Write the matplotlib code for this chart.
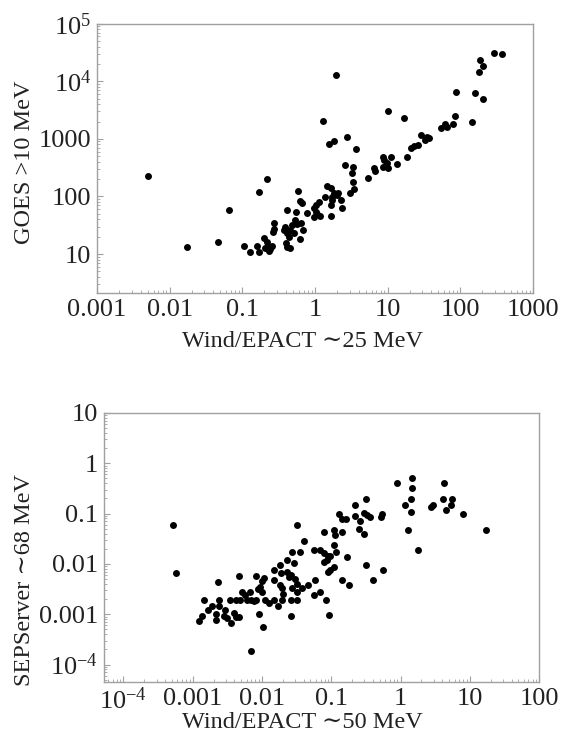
"""
## Two log-log scatter panels of peak proton intensities.
## Top: GOES >10 MeV against Wind/EPACT ~25 MeV.
## Bottom: SEPServer ~68 MeV against Wind/EPACT ~50 MeV.
"""

import numpy as np
import matplotlib
matplotlib.use('Agg')
from matplotlib.figure import Figure
from matplotlib.ticker import FixedLocator, FixedFormatter, LogLocator, NullFormatter

## Top panel values.
top_x = [0.0051, 0.0173, 0.047, 0.066, 0.106, 0.126, 0.158, 0.168, 0.168, 0.216,
         0.201, 0.217, 0.224, 0.243, 0.232, 0.260, 0.208, 0.276, 0.270, 0.265,
         0.414, 0.588, 0.632, 0.667, 0.556, 0.782,
         0.372, 0.392, 0.414, 0.436, 0.460, 0.485, 0.523, 0.569, 0.511, 0.647,
         0.675, 0.395, 0.414, 0.460, 0.618,
         1.13, 1.02, 0.966, 1.02, 1.08, 0.966, 1.16,
         1.45, 1.64, 1.37, 1.73, 1.82, 1.99, 2.08, 1.64, 1.73, 2.31, 2.39, 1.64,
         1.27, 1.56, 1.82, 1.93, 2.80, 3.68, 2.56, 3.39, 3.28, 3.34, 3.45, 3.04,
         5.35, 6.53, 6.67, 8.53, 8.89, 11.1, 9.77, 9.46, 8.53, 10.2, 10.2, 13.3,
         17.0, 18.7, 21.0, 23.3, 26.0, 28.9, 32.8, 34.4, 37.6, 53.5, 62.1, 65.5,
         79.3, 83.4, 86.1, 145, 161, 208, 183, 208, 185, 292, 372]
top_y = [230, 13.1, 16.2, 57, 13.9, 11, 13.9, 11, 120, 204,
         18.7, 16.2, 13.5, 12.2, 11.3, 13.8, 12.5, 35, 27.7, 24.2,
         58, 126, 84.5, 76, 54.5, 52,
         26.1, 29.9, 22.9, 20, 26.1, 31.9, 39, 33.3, 22.9, 35,
         26.1, 15.4, 13.4, 12.7, 18,
         80, 70, 62, 54, 48.6, 44.6, 44.9,
         152, 139, 99, 99, 114, 106, 116, 71, 87, 87, 62, 46,
         2060, 809, 923, 12600, 1070, 662, 349, 322, 253, 181, 135, 114,
         210, 309, 277, 492, 423, 486, 378, 333, 330, 309, 3100, 363,
         2320, 486, 689, 755, 787, 1175, 962, 1097, 1028, 1573, 1800, 1620,
         1845, 2510, 6490, 1950, 6240, 4970, 14500, 18400, 23700, 30900, 29200]

## Bottom panel values.
bot_x = [5.2e-4, 5.8e-4, 0.0069, 0.0103, 0.0319, 0.00233, 0.00465, 0.00806,
         0.00143, 0.00164, 0.00191, 0.00236, 0.00236, 0.00218, 0.00218, 0.00136,
         0.00124, 0.00288, 0.00285, 0.00312, 0.00356, 0.00388, 0.00415, 0.00465,
         0.00348, 0.00424, 0.00484, 0.00513, 0.00573, 0.00606, 0.00676, 0.00692,
         0.00754, 0.00824, 0.00873, 0.00942, 0.00984, 0.00997, 0.0108, 0.00891,
         0.0111, 0.0128, 0.0147, 0.0171, 0.0147, 0.0151, 0.0183, 0.0189, 0.0183,
         0.0194, 0.020, 0.0194, 0.0229, 0.0233, 0.0241, 0.0264, 0.027, 0.035,
         0.0286, 0.0301, 0.0319, 0.027, 0.0319, 0.0261, 0.0322, 0.0264, 0.0377,
         0.0398, 0.0454, 0.0554, 0.0692, 0.0772, 0.0881, 0.0964, 0.0865, 0.118,
         0.0791, 0.168, 0.108, 0.0964, 0.0881, 0.316, 0.548, 0.0586, 0.142, 0.177,
         0.398, 0.0692, 0.0554, 0.0844, 0.0923, 0.0772, 0.108, 0.114, 0.142,
         0.247, 0.292, 0.108, 0.131, 0.142, 0.164, 0.221, 0.319, 0.221, 0.261,
         0.298, 0.327, 0.356, 0.537, 0.525, 0.885, 1.47, 1.47, 4.26, 1.40, 1.15,
         1.39, 1.27, 1.81, 2.74, 2.98, 4.12, 5.46, 5.28, 4.55, 8.0, 17.0]
bot_y = [0.0583, 0.00673, 1.87e-4, 5.6e-4, 0.0592, 0.00435, 0.0057, 0.0057,
         0.00191, 0.00123, 0.00143, 0.00191, 0.00143, 0.00102, 7.5e-4, 9.3e-4,
         7.2e-4, 0.00123, 9.3e-4, 8.4e-4, 6.7e-4, 0.00106, 9.0e-4, 9.0e-4,
         0.00191, 0.00191, 0.00191, 0.00282, 0.00243, 0.00194, 0.00282, 0.00194,
         0.00179, 0.00194, 0.00316, 0.00355, 0.00447, 0.00282, 0.00522, 0.00102,
         0.00194, 0.00167, 0.00194, 0.00143, 0.00482, 0.0076, 0.00955, 0.00655,
         0.00384, 0.0033, 0.00251, 0.00194, 0.012, 0.00705, 0.00561, 0.00606,
         0.0173, 0.0173, 0.0105, 0.00505, 0.00402, 0.00335, 0.00282, 0.00194,
         0.00194, 9.3e-4, 0.0033, 0.0289, 0.00384, 0.0189, 0.0189, 0.0163,
         0.0144, 0.0144, 0.012, 0.0175, 0.0111, 0.014, 0.00885, 0.0076, 0.00705,
         0.00955, 0.0076, 0.00482, 0.00482, 0.00384, 0.00482, 0.00282, 0.00236,
         0.00188, 9.5e-4, 0.0437, 0.0471, 0.0375, 0.0437, 0.0486, 0.0387, 0.0238,
         0.0964, 0.0778, 0.0767, 0.147, 0.194, 0.0904, 0.071, 0.101, 0.0933,
         0.0865, 0.0964, 0.0865, 0.396, 0.498, 0.324, 0.396, 0.194, 0.147, 0.107,
         0.0482, 0.0192, 0.136, 0.145, 0.194, 0.194, 0.145, 0.116, 0.0964, 0.0482]

## Tick values and their labels.
top_xticks = [1e-3, 1e-2, 1e-1, 1, 10, 100, 1000]
top_xlabels = ['0.001', '0.01', '0.1', '1', '10', '100', '1000']
top_yticks = [10, 100, 1000, 1e4, 1e5]
top_ylabels = ['10', '100', '1000', r'$\mathregular{10^{4}}$', r'$\mathregular{10^{5}}$']
bot_xticks = [1e-4, 1e-3, 1e-2, 1e-1, 1, 10, 100]
bot_xlabels = [r'$\mathregular{10^{-4}}$', '0.001', '0.01', '0.1', '1', '10', '100']
bot_yticks = [1e-4, 1e-3, 1e-2, 1e-1, 1, 10]
bot_ylabels = [r'$\mathregular{10^{-4}}$', '0.001', '0.01', '0.1', '1', '10']

## Fonts and frame style.
matplotlib.rcParams['font.family'] = ['Liberation Serif', 'DejaVu Serif']
matplotlib.rcParams['mathtext.fontset'] = 'custom'
matplotlib.rcParams['mathtext.rm'] = 'Liberation Serif'
fntsz = 17.5     # axis labels
fntsk = 19       # tick labels
frmcl = '#a0a0a0'
txtcl = '#222222'


def logpanel(ax, xs, ys, xlim, ylim, xtk, xlb, ytk, ylb):
## Draw one framed log-log scatter panel.
    ax.plot(xs, ys, 'o', color='k', markersize=5.0, markeredgewidth=0)
    ax.set_xscale('log')
    ax.set_yscale('log')
    ax.set_xlim(xlim)
    ax.set_ylim(ylim)
    ax.xaxis.set_major_locator(FixedLocator(xtk))
    ax.xaxis.set_major_formatter(FixedFormatter(xlb))
    ax.yaxis.set_major_locator(FixedLocator(ytk))
    ax.yaxis.set_major_formatter(FixedFormatter(ylb))
    subs = np.arange(2, 10)
    ax.xaxis.set_minor_locator(LogLocator(base=10, subs=subs, numticks=100))
    ax.yaxis.set_minor_locator(LogLocator(base=10, subs=subs, numticks=100))
    ax.xaxis.set_minor_formatter(NullFormatter())
    ax.yaxis.set_minor_formatter(NullFormatter())
    for sp in ax.spines.values():
        sp.set_color(frmcl)
        sp.set_linewidth(1.0)
    ax.tick_params(which='both', direction='in', color=frmcl, top=False,
                   right=False, labelsize=fntsk, labelcolor=txtcl)
    ax.tick_params(which='major', length=4, width=0.8, pad=4)
    ax.tick_params(which='minor', length=2, width=0.6)


def main():
    fig = Figure(figsize=(5.67, 7.40), dpi=100)
    fig.patch.set_facecolor('w')

## Top panel.
    ax1 = fig.add_axes([0.171, 0.604, 0.769, 0.364])
    logpanel(ax1, top_x, top_y, (1e-3, 1e3), (2.1, 1e5),
             top_xticks, top_xlabels, top_yticks, top_ylabels)
    ax1.set_xlabel('Wind/EPACT \u223c25 MeV', fontsize=fntsz, color=txtcl)
    ax1.set_ylabel('GOES >10 MeV', fontsize=fntsz, color=txtcl)
    ax1.xaxis.set_label_coords(0.472, -0.14)
    ax1.yaxis.set_label_coords(-0.142, 0.487)

## Bottom panel.
    ax2 = fig.add_axes([0.183, 0.0784, 0.768, 0.3636])
    logpanel(ax2, bot_x, bot_y, (5.2e-5, 100), (4.5e-5, 10),
             bot_xticks, bot_xlabels, bot_yticks, bot_ylabels)
    ax2.set_xlabel('Wind/EPACT \u223c50 MeV', fontsize=fntsz, color=txtcl)
    ax2.set_ylabel('SEPServer \u223c68 MeV', fontsize=fntsz, color=txtcl)
    ax2.xaxis.set_label_coords(0.455, -0.11)
    ax2.yaxis.set_label_coords(-0.159, 0.38)

    fig.savefig('out.png', dpi=100, facecolor='w')


if __name__ == '__main__':
    main()
